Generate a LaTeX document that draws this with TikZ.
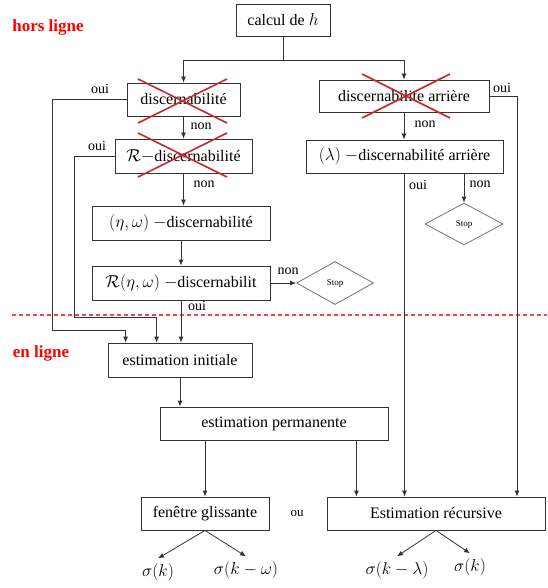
\documentclass[tikz,border=0pt]{standalone}
\usepackage{amsmath,amssymb}
\usepackage{fontspec}
\setmainfont{Liberation Serif}
\usetikzlibrary{arrows.meta,shapes.geometric}

\definecolor{crossred}{RGB}{200,40,45}
\definecolor{linered}{RGB}{240,70,70}

\begin{document}
\begin{tikzpicture}[x=1pt,y=-1pt,
          every node/.style={font=\fontsize{16}{18}\selectfont},
          box/.style={draw=black!80,line width=0.8pt,inner sep=2pt},
          stopdia/.style={draw=black!55,line width=0.8pt,diamond,inner sep=0pt,
                          font=\fontsize{9}{10}\selectfont},
          lbl/.style={font=\fontsize{14}{16}\selectfont,inner sep=1pt},
          sig/.style={inner sep=1pt,outer sep=4pt},
          arr/.style={draw=black!80,line width=0.8pt,-{Latex[length=6pt,width=5pt]}},
          cross/.style={draw=crossred,line width=1.6pt}]
        \useasboundingbox (0,0) rectangle (547,588);
        % titles
        \node[text=red,font=\fontsize{17}{19}\selectfont\bfseries] (hors) at (48,27) {hors ligne};
        \node[text=red,font=\fontsize{17}{19}\selectfont\bfseries] (enl) at (41,353) {en ligne};
        \draw[linered,line width=1.1pt,dash pattern=on 4pt off 3pt] (12,315) -- (547,315);
        % boxes, hors ligne
        \node[box,minimum width=94pt,minimum height=32pt] (calc) at (283,20) {calcul de $h$};
        \node[box,minimum width=113pt,minimum height=33pt] (disc) at (183.5,99.5) {discernabilité};
        \node[box,minimum width=137pt,minimum height=34pt] (rdisc) at (183.5,156) {$\mathcal{R}{-}$discernabilité};
        \node[box,minimum width=178pt,minimum height=34pt] (eta) at (181,223) {$(\eta,\omega)$ $-$discernabilité};
        \node[box,minimum width=178pt,minimum height=34pt] (reta) at (181,283) {$\mathcal{R}(\eta,\omega)$ $-$discernabilit};
        \node[stopdia,minimum width=77pt,minimum height=43pt] (stopA) at (335,283) {Stop};
        \node[box,minimum width=170pt,minimum height=32pt] (darr) at (404,96) {discernabilite arrière};
        \node[box,minimum width=197pt,minimum height=33pt] (lam) at (404.5,156.5) {$(\lambda)$ $-$discernabilité arrière};
        \node[stopdia,minimum width=78pt,minimum height=42pt] (stopB) at (464,224) {Stop};
        % boxes, en ligne
        \node[box,minimum width=144pt,minimum height=34pt] (init) at (180,360) {estimation initiale};
        \node[box,minimum width=228pt,minimum height=33pt] (perm) at (274,423.5) {estimation permanente};
        \node[box,minimum width=128pt,minimum height=33pt] (fen) at (205,513.5) {fenêtre glissante};
        \node[box,minimum width=218pt,minimum height=33pt] (rec) at (436,513.5) {Estimation récursive};
        \node[font=\fontsize{13}{15}\selectfont] (ou) at (297,513) {ou};
        % outputs
        \node[sig] (s1) at (158,572) {$\sigma(k)$};
        \node[sig] (s2) at (246,570) {$\sigma(k-\omega)$};
        \node[sig] (s3) at (397,570) {$\sigma(k-\lambda)$};
        \node[sig] (s4) at (470,567) {$\sigma(k)$};
        % bends
        \coordinate (split) at (283,60);
        \coordinate (l1) at (52,330);
        \coordinate (l2) at (74,317);
        \coordinate (r1) at (517,96);
        % connectors, left branch
        \draw[arr] (calc.south) -- (split) -| (disc.north);
        \draw[arr] (split) -| (darr.north);
        \draw[arr] (disc.south) -- (disc.south |- rdisc.north);
        \draw[arr] (rdisc.south) -- (rdisc.south |- eta.north);
        \draw[arr] (eta.south) -- (eta.south |- reta.north);
        \draw[arr] (reta.south) -- (reta.south |- init.north);
        \draw[arr] (reta.east) -- (stopA.west);
        \draw[arr] (disc.west) -| (l1) -| ([xshift=18pt]init.north west);
        \draw[arr] (rdisc.west) -| (l2) -| ([xshift=49pt]init.north west);
        % connectors, right branch
        \draw[arr] (darr.south) -- (darr.south |- lam.north);
        \draw[arr] (darr.east) -- (r1) -- (r1 |- rec.north);
        \draw[arr] (lam.south) -- (lam.south |- rec.north);
        \draw[arr] (stopB.north |- lam.south) -- (stopB.north);
        % connectors, en ligne
        \draw[arr] (init.south) -- (init.south |- perm.north);
        \draw[arr] (fen.north |- perm.south) -- (fen.north);
        \draw[arr] ([xshift=-32pt]perm.south east) -- ([xshift=-32pt]perm.south east |- rec.north);
        \draw[arr] (fen.south) -- (s1.north);
        \draw[arr] (fen.south) -- (s2.north);
        \draw[arr] (rec.south) -- (s3.north);
        \draw[arr] (rec.south) -- (s4.north);
        % labels
        \node[lbl] (o1) at (100,89) {oui};
        \node[lbl] (o2) at (97,146) {oui};
        \node[lbl] (n1) at (201,126) {non};
        \node[lbl] (n2) at (204,184) {non};
        \node[lbl] (o3) at (197,306) {oui};
        \node[lbl] (n3) at (288,271) {non};
        \node[lbl] (n4) at (425,124) {non};
        \node[lbl] (o4) at (502,88) {oui};
        \node[lbl] (o5) at (418,185) {oui};
        \node[lbl] (n5) at (480,184) {non};
        % crossed out tests
        \draw[cross] (138,79) -- (227,123) (227,79) -- (138,123);
        \draw[cross] (138,133) -- (227,177) (227,133) -- (138,177);
        \draw[cross] (362,74) -- (450,118) (450,74) -- (362,118);
\end{tikzpicture}
\end{document}
